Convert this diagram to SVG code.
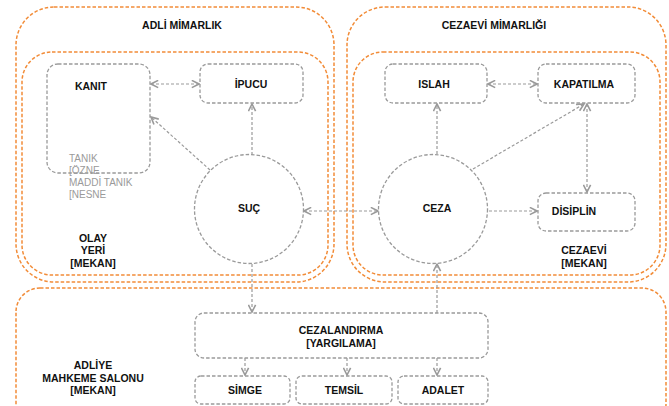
<svg xmlns="http://www.w3.org/2000/svg" width="669" height="406" viewBox="0 0 669 406">
<style>
.zone{fill:none;stroke:#F28C38;stroke-width:1.5;stroke-dasharray:3.5 2}
.node{fill:#fff;stroke:#9A9A9A;stroke-width:1.3;stroke-dasharray:3.5 2}
.con{fill:none;stroke:#9A9A9A;stroke-width:1.2;stroke-dasharray:3 2}
.t{font-family:"Liberation Sans",Arial,sans-serif;font-weight:bold;font-size:10.5px;fill:#111;text-anchor:middle}
.g{font-family:"Liberation Sans",Arial,sans-serif;font-size:10px;fill:#9A9A9A}
</style>
<defs>
<marker id="ah" viewBox="0 0 10 10" refX="9" refY="5" markerWidth="9" markerHeight="9" markerUnits="userSpaceOnUse" orient="auto-start-reverse">
<path d="M1,1 L9,5 L1,9" fill="none" stroke="#9A9A9A" stroke-width="1.8"/>
</marker>
</defs>
<g id="zones">
<g id="adli-mimarlik"><rect class="zone" x="16" y="7" width="318" height="275" rx="38"/><text class="t" x="182" y="29">ADLİ MİMARLIK</text></g>
<g id="olay-yeri"><rect class="zone" x="22" y="52" width="306" height="223" rx="30"/><text class="t" x="93" y="242">OLAY</text><text class="t" x="93" y="254">YERİ</text><text class="t" x="93" y="267">[MEKAN]</text></g>
<g id="cezaevi-mimarligi"><rect class="zone" x="347" y="7" width="319" height="275" rx="38"/><text class="t" x="494" y="29">CEZAEVİ MİMARLIĞI</text></g>
<g id="cezaevi"><rect class="zone" x="353" y="52" width="307" height="223" rx="30"/><text class="t" x="584" y="254">CEZAEVİ</text><text class="t" x="584" y="267">[MEKAN]</text></g>
<g id="adliye"><rect class="zone" x="16" y="288" width="650" height="140" rx="24"/><text class="t" x="93" y="369">ADLİYE</text><text class="t" x="93" y="382">MAHKEME SALONU</text><text class="t" x="93" y="394">[MEKAN]</text></g>
</g>
<g id="connectors">
<line class="con" x1="151" y1="84" x2="199" y2="84" marker-start="url(#ah)" marker-end="url(#ah)"/>
<line class="con" x1="252" y1="155" x2="252" y2="104" marker-end="url(#ah)"/>
<line class="con" x1="210" y1="170" x2="151" y2="117" marker-end="url(#ah)"/>
<line class="con" x1="304" y1="211" x2="378" y2="211" marker-start="url(#ah)" marker-end="url(#ah)"/>
<line class="con" x1="437" y1="154" x2="437" y2="104" marker-end="url(#ah)"/>
<line class="con" x1="473" y1="169" x2="584" y2="104" marker-end="url(#ah)"/>
<line class="con" x1="587" y1="104" x2="587" y2="192" marker-start="url(#ah)" marker-end="url(#ah)"/>
<line class="con" x1="488" y1="84" x2="537" y2="84" marker-start="url(#ah)" marker-end="url(#ah)"/>
<line class="con" x1="489" y1="211" x2="537" y2="211" marker-end="url(#ah)"/>
<line class="con" x1="252" y1="264" x2="252" y2="312" marker-end="url(#ah)"/>
<line class="con" x1="437" y1="313" x2="437" y2="264" marker-end="url(#ah)"/>
<line class="con" x1="245" y1="358" x2="245" y2="375" marker-end="url(#ah)"/>
<line class="con" x1="347" y1="358" x2="347" y2="375" marker-end="url(#ah)"/>
<line class="con" x1="437" y1="358" x2="437" y2="375" marker-end="url(#ah)"/>
</g>
<g id="kanit"><rect class="node" x="47" y="64" width="103" height="109" rx="11"/><text class="t" x="91" y="90">KANIT</text></g>
<g id="kanit-notes"><text class="g" x="69" y="162">TANIK</text><text class="g" x="69" y="174">[ÖZNE</text><text class="g" x="69" y="186">MADDİ TANIK</text><text class="g" x="69" y="198">[NESNE</text></g>
<g id="ipucu"><rect class="node" x="200" y="64" width="103" height="39" rx="8"/><text class="t" x="251" y="88">İPUCU</text></g>
<g id="islah"><rect class="node" x="385" y="64" width="102" height="39" rx="8"/><text class="t" x="434" y="88">ISLAH</text></g>
<g id="kapatilma"><rect class="node" x="538" y="64" width="97" height="39" rx="8"/><text class="t" x="584" y="88">KAPATILMA</text></g>
<g id="disiplin"><rect class="node" x="538" y="193" width="97" height="38" rx="8"/><text class="t" x="574" y="215">DİSİPLİN</text></g>
<g id="suc"><circle class="node" cx="249" cy="209" r="54.5"/><text class="t" x="249" y="212">SUÇ</text></g>
<g id="ceza"><circle class="node" cx="433" cy="209" r="54.5"/><text class="t" x="437" y="212">CEZA</text></g>
<g id="cezalandirma"><rect class="node" x="195" y="313" width="293" height="45" rx="9"/><text class="t" x="341" y="334">CEZALANDIRMA</text><text class="t" x="341" y="347">[YARGILAMA]</text></g>
<g id="simge"><rect class="node" x="195" y="376" width="95" height="28" rx="6"/><text class="t" x="245" y="394">SİMGE</text></g>
<g id="temsil"><rect class="node" x="296" y="376" width="96" height="28" rx="6"/><text class="t" x="344" y="394">TEMSİL</text></g>
<g id="adalet"><rect class="node" x="398" y="376" width="90" height="28" rx="6"/><text class="t" x="443" y="394">ADALET</text></g>
</svg>
